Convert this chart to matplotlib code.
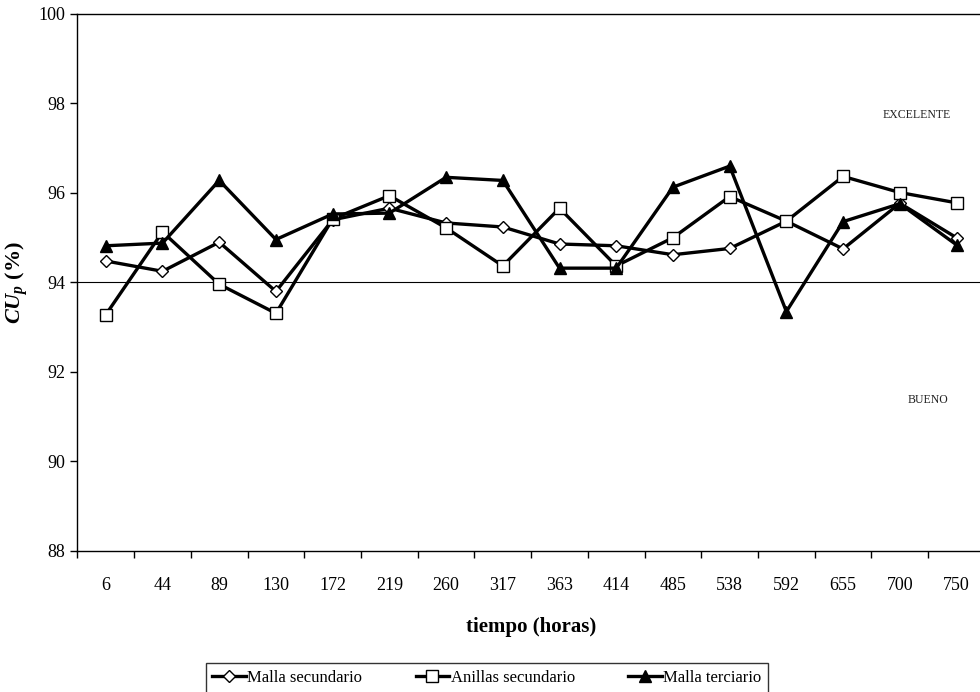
import matplotlib
matplotlib.use('Agg')
import matplotlib.pyplot as plt
import numpy as np
from matplotlib.ticker import FixedLocator, NullFormatter

plt.rcParams['font.family'] = ['Liberation Serif', 'DejaVu Serif']
plt.rcParams['mathtext.fontset'] = 'custom'
plt.rcParams['mathtext.it'] = 'Liberation Serif:italic:bold'
plt.rcParams['mathtext.rm'] = 'Liberation Serif:bold'
plt.rcParams['mathtext.bf'] = 'Liberation Serif:bold'

# ---- data ----
hours = ['6', '44', '89', '130', '172', '219', '260', '317', '363', '414',
         '485', '538', '592', '655', '700', '750']
malla_sec = [94.48, 94.25, 94.9, 93.8, 95.4, 95.66, 95.33, 95.24, 94.86, 94.82,
             94.62, 94.76, 95.37, 94.75, 95.77, 95.0]
anillas_sec = [93.28, 95.13, 93.96, 93.31, 95.42, 95.94, 95.22, 94.37, 95.66, 94.37,
               95.0, 95.92, 95.37, 96.37, 96.01, 95.78]
malla_ter = [94.82, 94.88, 96.28, 94.96, 95.53, 95.55, 96.35, 96.28, 94.32, 94.32,
             96.13, 96.6, 93.35, 95.36, 95.76, 94.84]
limit = 94

fig = plt.figure(figsize=(9.8, 6.92), dpi=100)
ax = fig.add_axes([0.079, 0.2038, 0.926, 0.776])

x = np.arange(len(hours))
ax.plot(x, malla_sec, '-D', color='black', lw=2.4, ms=6.5, mfc='white', mec='black',
        mew=1.0, label='Malla secundario', zorder=3)
ax.plot(x, anillas_sec, '-s', color='black', lw=2.4, ms=8.5, mfc='white', mec='black',
        mew=1.0, label='Anillas secundario', zorder=3)
ax.plot(x, malla_ter, '-^', color='black', lw=2.4, ms=9, mfc='black', mec='black',
        label='Malla terciario', zorder=3)

ax.axhline(limit, color='black', lw=0.8, zorder=1)

ax.text(14.3, 97.74, 'EXCELENTE', fontsize=8.5, color='#222222', ha='center', va='center')
ax.text(14.5, 91.37, 'BUENO', fontsize=8.5, color='#222222', ha='center', va='center')

ax.set_xlim(-0.5, len(hours) - 0.5)
ax.set_ylim(88, 100)
ax.set_yticks(np.arange(88, 101, 2))
ax.set_xticks(x)
ax.set_xticklabels(hours)
ax.xaxis.set_minor_locator(FixedLocator(np.arange(-0.5, len(hours), 1.0)))
ax.xaxis.set_minor_formatter(NullFormatter())
ax.tick_params(axis='x', which='major', length=0, pad=19, labelsize=13)
ax.tick_params(axis='x', which='minor', length=5, width=1, direction='out')
ax.tick_params(axis='y', length=5, width=1, direction='out', labelsize=13)

ax.spines['right'].set_visible(False)
for s in ['left', 'bottom', 'top']:
    ax.spines[s].set_linewidth(1.0)

ax.set_xlabel('tiempo (horas)', fontsize=15, fontweight='bold', labelpad=16)
ax.set_ylabel(r'$CU_p$ (%)', fontsize=16, fontweight='bold', labelpad=6)

leg = fig.legend(loc='lower center', bbox_to_anchor=(0.497, -0.008), ncol=3,
                 fontsize=12, frameon=True, fancybox=False, edgecolor='black',
                 handlelength=2.0, handletextpad=0.1, columnspacing=3.2,
                 borderpad=0.4, borderaxespad=0.3)
leg.get_frame().set_linewidth(1.0)

fig.savefig('out.png', dpi=100)
